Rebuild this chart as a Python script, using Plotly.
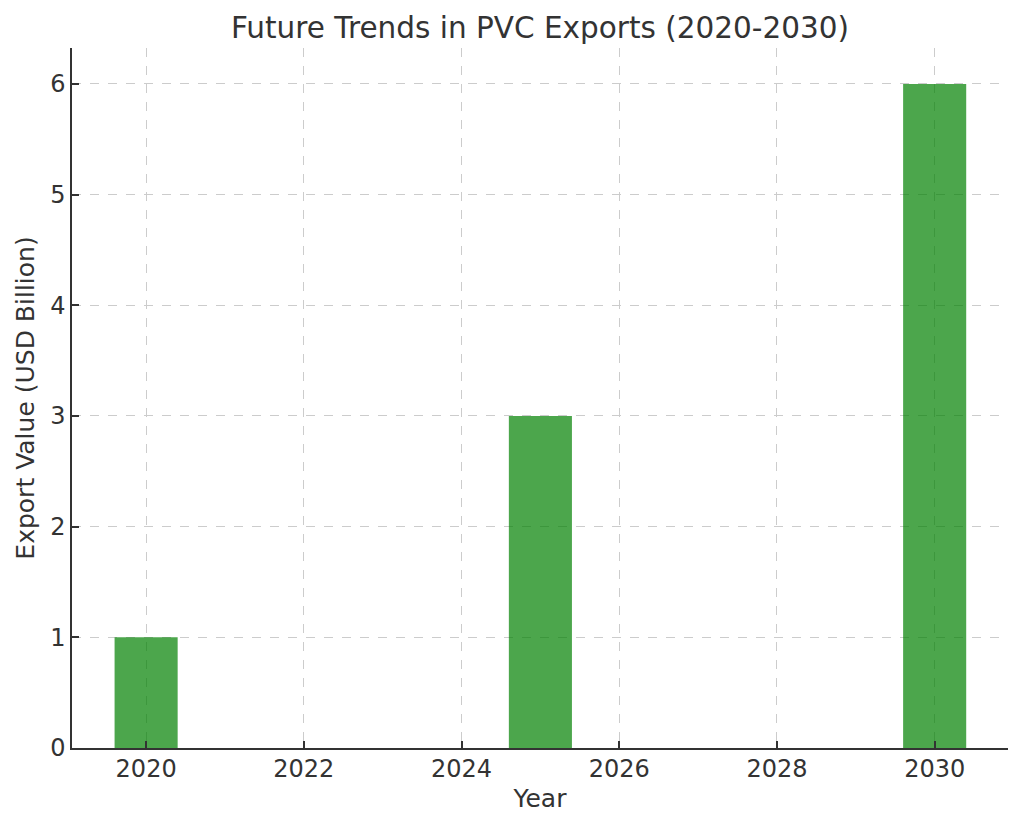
import plotly.graph_objects as go

years = [2020, 2025, 2030]
export_values = [1, 3, 6]
x_ticks = [2020, 2022, 2024, 2026, 2028, 2030]
y_ticks = [0, 1, 2, 3, 4, 5, 6]

FONT = "DejaVu Sans"
TXT = "#333333"

fig = go.Figure(go.Bar(
    x=years, y=export_values, width=0.8,
    marker=dict(color="rgba(0,128,0,0.7)", line=dict(width=0)),
))

fig.update_layout(
    width=1024, height=829,
    margin=dict(l=72, r=16, t=48, b=81),
    paper_bgcolor="white", plot_bgcolor="white",
    font=dict(family=FONT, color=TXT, size=24),
    showlegend=False,
    title=dict(text="Future Trends in PVC Exports (2020-2030)", x=0.5, xref="paper", xanchor="center",
               y=1 - 28 / 829, yanchor="middle", font=dict(size=29.5, color=TXT, family=FONT)),
    xaxis=dict(
        range=[2019.06, 2030.93], tickvals=x_ticks, ticktext=[str(t) for t in x_ticks],
        showline=True, linecolor=TXT, linewidth=1.5, mirror=False,
        ticks="inside", ticklen=7, tickwidth=1.5, tickcolor=TXT,
        showgrid=True, gridcolor="#cccccc", griddash="dash", gridwidth=1,
        zeroline=False, layer="above traces",
        ticklabelstandoff=-2,
        title=dict(text="Year", font=dict(size=25), standoff=8),
        tickfont=dict(size=24),
    ),
    yaxis=dict(
        range=[0, 6.325], tickvals=y_ticks,
        showline=True, linecolor=TXT, linewidth=1.5, mirror=False,
        ticks="inside", ticklen=7, tickwidth=1.5, tickcolor=TXT,
        showgrid=True, gridcolor="#cccccc", griddash="dash", gridwidth=1,
        zeroline=False, layer="above traces",
        title=dict(text="Export Value (USD Billion)", font=dict(size=25), standoff=8),
        tickfont=dict(size=24),
    ),
)

fig.write_html("out.html")
